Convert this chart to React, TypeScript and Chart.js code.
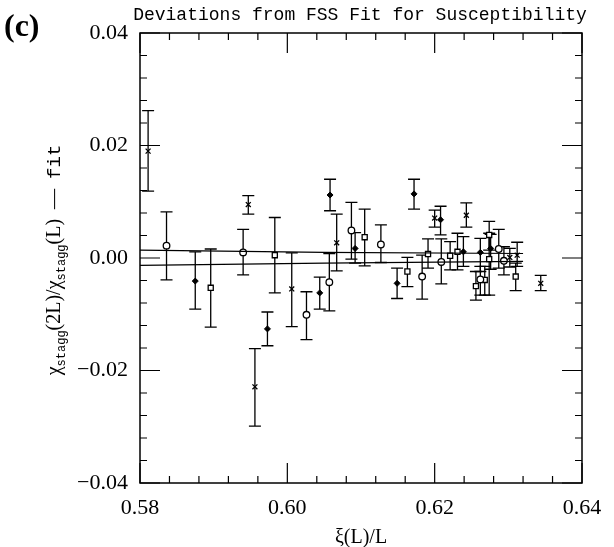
import React, { useEffect, useRef } from 'react';
import { Chart, registerables } from 'chart.js';

Chart.register(...registerables);

// ---- data ----
const crossX = [0.5811, 0.5947, 0.5956, 0.6006, 0.6067, 0.6200, 0.6243, 0.6302, 0.6312, 0.6344];
const crossY = [0.0190, 0.0095, -0.0229, -0.0055, 0.0027, 0.0071, 0.0076, 0.0001, 0.0005, -0.0045];
const crossHi = [0.0262, 0.0111, -0.0161, 0.0009, 0.0078, 0.0085, 0.0098, 0.0017, 0.0028, -0.0031];
const crossLo = [0.0119, 0.0078, -0.0299, -0.0122, -0.0023, 0.0055, 0.0055, -0.0016, -0.0015, -0.0058];

const circleX = [0.5836, 0.5940, 0.6026, 0.6057, 0.6087, 0.6127, 0.6183, 0.6209, 0.6262, 0.6287, 0.6294];
const circleY = [0.0022, 0.0010, -0.0101, -0.0043, 0.0049, 0.0024, -0.0033, -0.0007, -0.0038, 0.0016, -0.0005];
const circleHi = [0.0082, 0.0051, -0.0060, 0.0008, 0.0099, 0.0059, 0.0005, 0.0034, -0.0015, 0.0051, 0.0020];
const circleLo = [-0.0039, -0.0030, -0.0145, -0.0094, -0.0002, -0.0008, -0.0073, -0.0046, -0.0066, -0.0018, -0.0030];

const squareX = [0.5896, 0.5983, 0.6105, 0.6163, 0.6191, 0.6221, 0.6231, 0.6256, 0.6268, 0.6274, 0.6274, 0.6310];
const squareY = [-0.0053, 0.0005, 0.0037, -0.0024, 0.0007, 0.0004, 0.0011, -0.0050, -0.0039, 0.0041, -0.0002, -0.0033];
const squareHi = [0.0016, 0.0072, 0.0087, 0.0001, 0.0034, 0.0029, 0.0044, -0.0024, -0.0015, 0.0065, 0.0044, -0.0009];
const squareLo = [-0.0123, -0.0062, -0.0014, -0.0051, -0.0018, -0.0021, -0.0021, -0.0075, -0.0066, 0.0014, -0.0066, -0.0058];

const diamondX = [0.5875, 0.5973, 0.6044, 0.6058, 0.6092, 0.6149, 0.6172, 0.6208, 0.6239, 0.6262, 0.6276];
const diamondY = [-0.0041, -0.0126, -0.0062, 0.0112, 0.0017, -0.0045, 0.0114, 0.0068, 0.0011, 0.0010, 0.0017];
const diamondHi = [0.0011, -0.0096, -0.0034, 0.0140, 0.0045, -0.0018, 0.0140, 0.0092, 0.0038, 0.0035, 0.0042];
const diamondLo = [-0.0091, -0.0156, -0.0091, 0.0084, -0.0009, -0.0072, 0.0087, 0.0041, -0.0015, -0.0024, -0.0020];

const fitX = [0.58, 0.605, 0.632];
const fitUpper = [0.0014, 0.0010, 0.0008];
const fitLower = [-0.0013, -0.0009, -0.0006];

const xTicks = [0.58, 0.60, 0.62, 0.64];
const yTicks = [-0.04, -0.02, 0.0, 0.02, 0.04];
const xMinorStep = 0.004;
const yMinorStep = 0.004;

const titleText = 'Deviations from FSS Fit for Susceptibility';
const panelLabel = '(c)';
const xTitle = '\u03BE(L)/L';

const fmt = (v: number) => {
  const s = Math.abs(v).toFixed(2);
  return v < -1e-9 ? '\u2212' + s : s;
};

const mk = (xs: number[], ys: number[], hi: number[], lo: number[]) =>
  xs.map((x, i) => ({ x, y: ys[i], hi: hi[i], lo: lo[i] }));

const errorBarPlugin = {
  id: 'errorBars',
  beforeDatasetsDraw(chart: any) {
    const ctx = chart.ctx;
    const xs = chart.scales.x;
    const ys = chart.scales.y;
    ctx.save();
    ctx.strokeStyle = '#000';
    ctx.lineWidth = 1.3;
    chart.data.datasets.forEach((ds: any) => {
      if (!ds.errorBars) return;
      ds.data.forEach((p: any) => {
        const px = xs.getPixelForValue(p.x);
        const pHi = ys.getPixelForValue(p.hi);
        const pLo = ys.getPixelForValue(p.lo);
        const cap = 6;
        ctx.beginPath();
        ctx.moveTo(px, pHi);
        ctx.lineTo(px, pLo);
        ctx.moveTo(px - cap, pHi);
        ctx.lineTo(px + cap, pHi);
        ctx.moveTo(px - cap, pLo);
        ctx.lineTo(px + cap, pLo);
        ctx.stroke();
      });
    });
    ctx.restore();
  },
};

const framePlugin = {
  id: 'frameTicks',
  afterDraw(chart: any) {
    const ctx = chart.ctx;
    const { left, right, top, bottom } = chart.chartArea;
    const xs = chart.scales.x;
    const ys = chart.scales.y;
    ctx.save();
    ctx.strokeStyle = '#000';
    ctx.lineWidth = 1.5;
    ctx.strokeRect(left, top, right - left, bottom - top);
    ctx.lineWidth = 1.2;
    const major = 20;
    const minor = 7;
    const isMajor = (v: number, arr: number[]) => arr.some((t) => Math.abs(t - v) < 1e-6);
    ctx.beginPath();
    for (let v = xs.min; v <= xs.max + 1e-9; v += xMinorStep) {
      const px = xs.getPixelForValue(v);
      const len = isMajor(v, xTicks) ? major : minor;
      ctx.moveTo(px, bottom);
      ctx.lineTo(px, bottom - len);
      ctx.moveTo(px, top);
      ctx.lineTo(px, top + len);
    }
    for (let v = ys.min; v <= ys.max + 1e-9; v += yMinorStep) {
      const py = ys.getPixelForValue(v);
      const len = isMajor(v, yTicks) ? major : minor;
      ctx.moveTo(left, py);
      ctx.lineTo(left + len, py);
      ctx.moveTo(right, py);
      ctx.lineTo(right - len, py);
    }
    ctx.stroke();

    // title
    ctx.fillStyle = '#000';
    ctx.font = '18px "Liberation Mono"';
    ctx.textAlign = 'center';
    ctx.textBaseline = 'alphabetic';
    ctx.fillText(titleText, (left + right) / 2 - 1, 20);

    // panel label
    ctx.font = 'bold 32px "Liberation Serif"';
    ctx.textAlign = 'left';
    ctx.fillText(panelLabel, 4, 36);

    // x title
    ctx.font = '20px "Liberation Serif"';
    ctx.textAlign = 'center';
    ctx.fillText(xTitle, (left + right) / 2, 543);

    // y title with subscripts, rotated
    const mainFont = '20px "Liberation Serif"';
    const subFont = '12px "Liberation Mono"';
    const ttFont = '19px "Liberation Mono"';
    const parts: { t: string; f: string; dy: number }[] = [
      { t: '\u03C7', f: mainFont, dy: 0 },
      { t: 'stagg', f: subFont, dy: 5 },
      { t: '(2L)/', f: mainFont, dy: 0 },
      { t: '\u03C7', f: mainFont, dy: 0 },
      { t: 'stagg', f: subFont, dy: 5 },
      { t: '(L)  \u2014  ', f: mainFont, dy: 0 },
      { t: 'fit', f: ttFont, dy: 0 },
    ];
    let total = 0;
    const widths = parts.map((p) => {
      ctx.font = p.f;
      const w = ctx.measureText(p.t).width;
      total += w;
      return w;
    });
    ctx.translate(60, (top + bottom) / 2 + 2);
    ctx.rotate(-Math.PI / 2);
    ctx.textAlign = 'left';
    let cx = -total / 2;
    parts.forEach((p, i) => {
      ctx.font = p.f;
      ctx.fillText(p.t, cx, p.dy);
      cx += widths[i];
    });
    ctx.restore();
  },
};

export default function App() {
  const ref = useRef<HTMLCanvasElement | null>(null);
  useEffect(() => {
    document.body.style.margin = '0';
    document.body.style.background = '#fff';
    const canvas = ref.current;
    if (!canvas) return;
    const tickFont = { family: '"Liberation Serif"', size: 22 };
    const chart = new Chart(canvas, {
      type: 'scatter',
      data: {
        datasets: [
          {
            label: 'fit upper',
            type: 'line',
            data: fitX.map((x, i) => ({ x, y: fitUpper[i] })),
            borderColor: '#000',
            borderWidth: 1.2,
            pointRadius: 0,
            showLine: true,
            fill: false,
          } as any,
          {
            label: 'fit lower',
            type: 'line',
            data: fitX.map((x, i) => ({ x, y: fitLower[i] })),
            borderColor: '#000',
            borderWidth: 1.2,
            pointRadius: 0,
            showLine: true,
            fill: false,
          } as any,
          {
            label: 'crosses',
            data: mk(crossX, crossY, crossHi, crossLo),
            errorBars: true,
            pointStyle: 'crossRot',
            pointRadius: 3.5,
            borderColor: '#000',
            borderWidth: 1.3,
          } as any,
          {
            label: 'circles',
            data: mk(circleX, circleY, circleHi, circleLo),
            errorBars: true,
            pointStyle: 'circle',
            pointRadius: 3.3,
            backgroundColor: '#fff',
            borderColor: '#000',
            borderWidth: 1.3,
          } as any,
          {
            label: 'squares',
            data: mk(squareX, squareY, squareHi, squareLo),
            errorBars: true,
            pointStyle: 'rect',
            pointRadius: 3.6,
            backgroundColor: '#fff',
            borderColor: '#000',
            borderWidth: 1.3,
          } as any,
          {
            label: 'diamonds',
            data: mk(diamondX, diamondY, diamondHi, diamondLo),
            errorBars: true,
            pointStyle: 'rectRot',
            pointRadius: 3,
            backgroundColor: '#000',
            borderColor: '#000',
            borderWidth: 1,
          } as any,
        ],
      },
      options: {
        animation: false,
        responsive: false,
        maintainAspectRatio: false,
        layout: { padding: { top: 33, right: 32, left: 0, bottom: 0 } },
        plugins: {
          legend: { display: false },
          tooltip: { enabled: false },
          title: { display: false },
        },
        scales: {
          x: {
            type: 'linear',
            min: 0.58,
            max: 0.64,
            afterBuildTicks: (s: any) => {
              s.ticks = xTicks.map((v) => ({ value: v }));
            },
            afterFit: (s: any) => {
              s.height = 64;
            },
            grid: { display: false, drawTicks: false },
            border: { display: false },
            ticks: {
              color: '#000',
              font: tickFont,
              padding: 12,
              maxRotation: 0,
              autoSkip: false,
              callback: (v: any) => fmt(Number(v)),
            },
          },
          y: {
            type: 'linear',
            min: -0.04,
            max: 0.04,
            afterBuildTicks: (s: any) => {
              s.ticks = yTicks.map((v) => ({ value: v }));
            },
            afterFit: (s: any) => {
              s.width = 140;
            },
            grid: { display: false, drawTicks: false },
            border: { display: false },
            ticks: {
              color: '#000',
              font: tickFont,
              padding: 12,
              autoSkip: false,
              callback: (v: any) => fmt(Number(v)),
            },
          },
        },
      },
      plugins: [errorBarPlugin, framePlugin],
    } as any);
    return () => chart.destroy();
  }, []);
  return (
    <div style={{ width: 614, height: 547, background: '#fff' }}>
      <canvas ref={ref} width={614} height={547} style={{ display: 'block', width: 614, height: 547 }} />
    </div>
  );
}
